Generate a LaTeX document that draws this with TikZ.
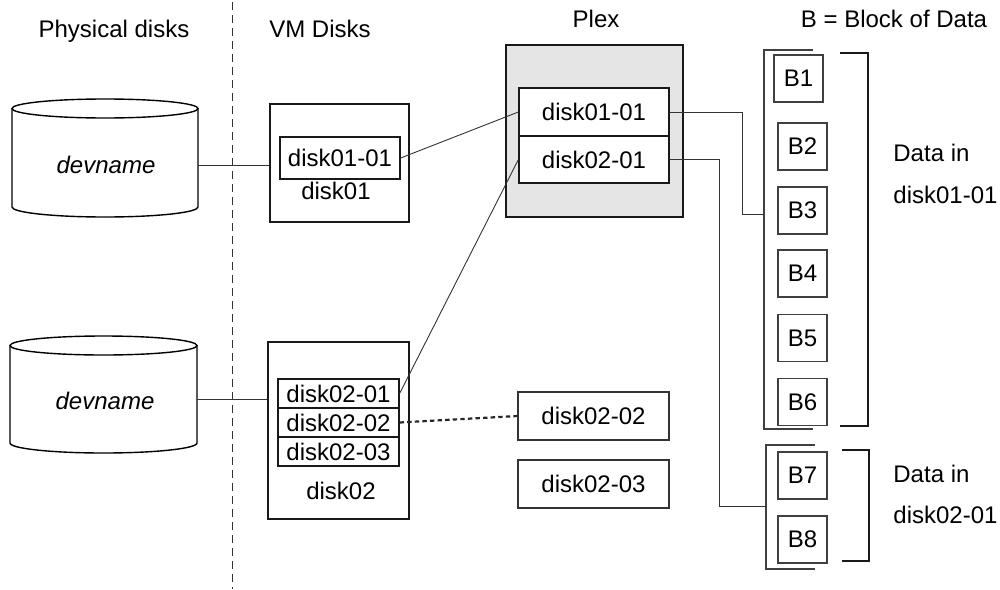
\documentclass[tikz,border=0pt]{standalone}
\usepackage{fontspec}
\setmainfont{Liberation Sans}
\begin{document}
\begin{tikzpicture}[x=0.5pt,y=-0.5pt,
  every node/.style={font=\fontsize{12pt}{14pt}\selectfont},
  box/.style={draw=black!90, rectangle, inner sep=0pt, line width=0.6pt, fill=white},
  blk/.style={draw=black!75, rectangle, inner sep=0pt, line width=0.55pt, minimum width=24.5pt, minimum height=23.5pt},
  lbl/.style={inner sep=0pt, anchor=base},
  conn/.style={draw=black!80, line width=0.45pt},
  lbrack/.style={draw=black!75, line width=0.55pt},
  rbrack/.style={draw=black!90, line width=0.75pt},
  cyl/.style={draw=black, line width=0.7pt, fill=white}]
\useasboundingbox (0,0) rectangle (1000,589);

% divider
\coordinate (dvtop) at (232,2);
\coordinate (dvbot) at (232,589);
\draw[black!80, line width=0.5pt, dash pattern=on 4pt off 2.5pt] (dvtop) -- (dvbot);

% headings
\node[lbl] (hphys) at (114,37) {Physical disks};
\node[lbl] (hvm) at (320,37) {VM Disks};
\node[lbl] (hplex) at (596,27) {Plex};
\node[lbl] (hblk) at (894,27) {B = Block of Data};

% cylinder 1
\path[cyl] (12,108.5) -- (12,207) arc[start angle=180, end angle=0, x radius=93, y radius=10] -- (198,108.5) -- cycle;
\draw[cyl] (105,108.5) ellipse [x radius=93, y radius=9.5];
\node[inner sep=0pt, minimum width=93pt, minimum height=10pt] (cyl1) at (105,165) {};
\node[lbl] (dev1) at (106,173) {\itshape devname};

% cylinder 2
\path[cyl] (10,345.5) -- (10,443) arc[start angle=180, end angle=0, x radius=93.5, y radius=10] -- (197,345.5) -- cycle;
\draw[cyl] (103.5,345.5) ellipse [x radius=93.5, y radius=9.5];
\node[inner sep=0pt, minimum width=93.5pt, minimum height=10pt] (cyl2) at (103.5,399.5) {};
\node[lbl] (dev2) at (105,409) {\itshape devname};

% VM disk01
\node[box, minimum width=69.5pt, minimum height=59pt] (vm1) at (339.5,163) {};
\node[box, minimum width=60pt, minimum height=21pt] (d11) at (340,158) {disk01-01};
\node[lbl] (vm1lbl) at (336,199) {disk01};

% VM disk02
\node[box, minimum width=70.5pt, minimum height=88.5pt] (vm2) at (338.5,430.5) {};
\node[box, minimum width=60.5pt, minimum height=14.5pt] (d21) at (338.5,393.5) {disk02-01};
\node[box, minimum width=60.5pt, minimum height=14.5pt] (d22) at (338.5,422.5) {disk02-02};
\node[box, minimum width=60.5pt, minimum height=14.5pt] (d23) at (338.5,451.5) {disk02-03};
\node[lbl] (vm2lbl) at (341,499) {disk02};

% Plex
\node[box, fill=black!10, minimum width=88.5pt, minimum height=86pt] (plex) at (594.5,131) {};
\node[box, minimum width=75pt, minimum height=24pt] (p1) at (594,112) {disk01-01};
\node[box, minimum width=75pt, minimum height=23.5pt] (p2) at (594,159.5) {disk02-01};

% free subdisks
\node[box, draw=black!80, minimum width=75.5pt, minimum height=24pt] (x22) at (593.5,416) {disk02-02};
\node[box, draw=black!80, minimum width=75.5pt, minimum height=24pt] (x23) at (593.5,484) {disk02-03};

% blocks
\node[blk] (b1) at (798.5,78.5) {B1};
\node[blk] (b2) at (802.5,146.5) {B2};
\node[blk] (b3) at (802.5,210.5) {B3};
\node[blk] (b4) at (802.5,273.5) {B4};
\node[blk] (b5) at (802.5,338) {B5};
\node[blk] (b6) at (802.5,402) {B6};
\node[blk] (b7) at (802.5,475.5) {B7};
\node[blk] (b8) at (802.5,539.5) {B8};

% brackets
\draw[lbrack] (813,50) -- (764,50) -- (764,429) -- (813,429);
\draw[rbrack] (840,53) -- (868,53) -- (868,426) -- (840,426);
\draw[lbrack] (815,445) -- (766,445) -- (766,569) -- (815,569);
\draw[rbrack] (842,450) -- (869,450) -- (869,561) -- (842,561);

% data labels
\node[lbl, anchor=base west] (dl1a) at (893,161) {Data in};
\node[lbl, anchor=base west] (dl1b) at (893,203) {disk01-01};
\node[lbl, anchor=base west] (dl2a) at (893,482) {Data in};
\node[lbl, anchor=base west] (dl2b) at (893,523) {disk02-01};

% connectors
\draw[conn] (cyl1.east) -- (cyl1.east -| vm1.west);
\draw[conn] (cyl2.east) -- (cyl2.east -| vm2.west);
\draw[conn] (d11.east) -- (p1.west);
\draw[conn] (d21.east) -- (p2.west);
\draw[black!85, line width=1.1pt, dash pattern=on 2.2pt off 1.6pt] (d22.east) -- (x22.west);

\coordinate (br1) at (764,214);
\coordinate (j1) at (742,0);
\coordinate (br2) at (766,506);
\coordinate (j2) at (719,0);
\draw[conn] (p1.east) -| (j1 |- br1) -- (br1);
\draw[conn] (p2.east) -| (j2 |- br2) -- (br2);
\end{tikzpicture}
\end{document}
